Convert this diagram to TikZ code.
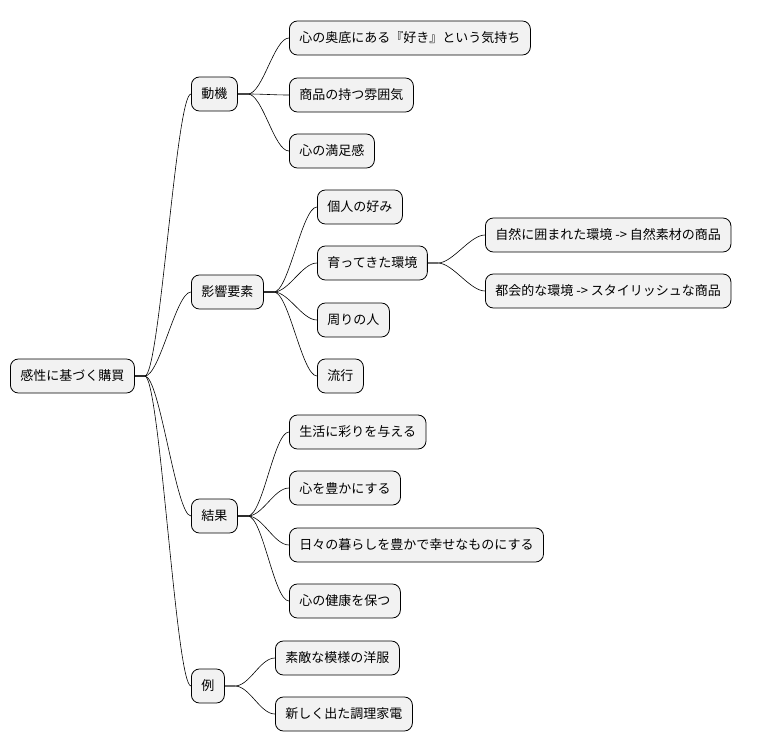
\documentclass[tikz,border=0pt]{standalone}
\usepackage{fontspec}
\newfontfamily\cjk{Noto Sans CJK JP}
\begin{document}
\begin{tikzpicture}[x=1pt,y=-1pt,
  mm/.style={draw=black,fill=black!5,rounded corners=8pt,line width=0.8pt,anchor=west,
    minimum height=34pt,inner xsep=10pt,font=\cjk\fontsize{13pt}{15pt}\selectfont},
  lk/.style={line width=0.6pt}]
\useasboundingbox (0,0) rectangle (766,752);
\node[mm] (r) at (10,376) {感性に基づく購買};
\node[mm] (a) at (191,94) {動機};
\node[mm] (a1) at (289,38) {心の奥底にある『好き』という気持ち};
\node[mm] (a2) at (289,95) {商品の持つ雰囲気};
\node[mm] (a3) at (289,151) {心の満足感};
\node[mm] (b) at (191,292) {影響要素};
\node[mm] (b1) at (317,207) {個人の好み};
\node[mm] (b2) at (317,263) {育ってきた環境};
\node[mm] (b21) at (485,235) {自然に囲まれた環境 -> 自然素材の商品};
\node[mm] (b22) at (485,291) {都会的な環境 -> スタイリッシュな商品};
\node[mm] (b3) at (317,320) {周りの人};
\node[mm] (b4) at (317,376) {流行};
\node[mm] (c) at (191,516) {結果};
\node[mm] (c1) at (289,432) {生活に彩りを与える};
\node[mm] (c2) at (289,488) {心を豊かにする};
\node[mm] (c3) at (289,545) {日々の暮らしを豊かで幸せなものにする};
\node[mm] (c4) at (289,601) {心の健康を保つ};
\node[mm] (d) at (191,686) {例};
\node[mm] (d1) at (275,658) {素敵な模様の洋服};
\node[mm] (d2) at (275,714) {新しく出た調理家電};
\foreach \p/\c in {r/a,r/b,r/c,r/d,a/a1,a/a2,a/a3,b/b1,b/b2,b/b3,b/b4,b2/b21,b2/b22,c/c1,c/c2,c/c3,c/c4,d/d1,d/d2}{
  \draw[lk] (\p.east) -- ++(10,0) .. controls +(15,0) and +(-15,0) .. (\c.west);
}
\end{tikzpicture}
\end{document}
